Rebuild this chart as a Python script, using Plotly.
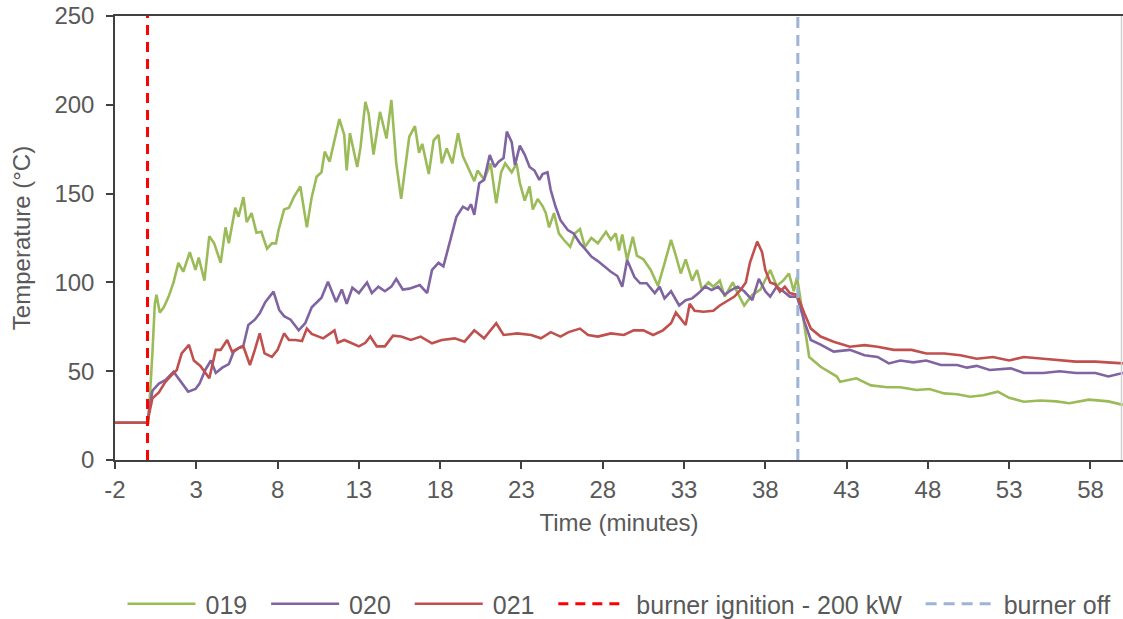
import plotly.graph_objects as go

# ---- data ----
t_019 = [-2, 0, 0.05, 0.3, 0.45, 0.55, 0.75, 1.0, 1.3, 1.6, 1.9, 2.2, 2.6, 2.95, 3.15, 3.5, 3.8, 4.1, 4.5, 4.8,
         5.0, 5.4, 5.6, 5.9, 6.1, 6.4, 6.7, 7.0, 7.35, 7.65, 7.9, 8.06, 8.4, 8.7, 9.0, 9.4, 9.8, 10.1, 10.4, 10.7,
         10.9, 11.2, 11.55, 11.8, 12.1, 12.25, 12.45, 12.9, 13.1, 13.4, 13.6, 13.9, 14.3, 14.7, 15.0, 15.3, 15.6,
         16.1, 16.45, 16.7, 16.9, 17.3, 17.6, 17.9, 18.1, 18.4, 18.75, 19.1, 19.4, 19.8, 20.1, 20.3, 20.7, 21.1,
         21.45, 21.75, 22.0, 22.4, 22.7, 22.9, 23.2, 23.5, 23.7, 24.0, 24.3, 24.5, 24.7, 25.0, 25.3, 25.6, 26.0,
         26.3, 26.6, 26.9, 27.3, 27.7, 28.2, 28.5, 28.8, 29.0, 29.2, 29.5, 29.85, 30.1, 30.5, 30.95, 31.4, 31.8,
         32.2, 32.5, 32.8, 33.1, 33.5, 33.8, 34.1, 34.5, 34.8, 35.2, 35.5, 36.0, 36.3, 36.7, 37.2, 37.7, 38.3,
         38.7, 39.1, 39.45, 39.75, 39.95, 40.4, 40.7, 41.4, 42.4, 42.6, 43.6, 44.5, 45.5, 46.3, 47.3, 48.1, 49.0,
         49.8, 50.6, 51.4, 52.3, 53.0, 53.9, 54.9, 55.9, 56.7, 57.9, 59.1, 60]
T_019 = [21, 21, 21, 60, 88, 93, 83, 86, 92, 100, 111, 106, 117, 107, 114, 101, 126, 122, 111, 131,
         122, 142, 137, 148, 134, 139, 128, 128.5, 119, 122, 122, 129.5, 141, 142, 148, 154, 131, 148, 159.5, 162,
         173.6, 168, 181, 192, 183, 163, 184, 165, 176, 201.7, 195, 172, 196, 181, 202.7, 167, 147,
         182, 188, 173, 178, 161, 180, 183, 167, 175.5, 167, 184, 171, 163, 157, 163, 158, 167,
         144.5, 162, 167, 162, 167, 156, 146, 154, 141, 147, 143, 139, 131, 139, 127.6, 124, 120,
         127.6, 130, 120, 125, 122, 128.5, 124, 127.6, 118, 127, 112.6, 125.7, 115, 113, 107, 98, 110.7,
         124, 115, 105, 113, 101, 107, 96, 100, 97.6, 101, 92, 100, 94, 87, 93, 96, 107,
         98, 101, 105, 95, 103, 75, 58, 52.5, 47, 44, 46, 42, 41, 41, 39.4, 40, 37.5,
         37, 35.6, 36.5, 38.5, 35, 32.8, 33.5, 33, 32, 34, 33, 31]

t_020 = [-2, 0, 0.1, 0.3, 0.7, 1.1, 1.6, 2.0, 2.5, 2.95, 3.2, 3.55, 3.9, 4.2, 4.6, 5.0, 5.3, 5.6, 5.9, 6.2,
         6.6, 6.9, 7.25, 7.75, 8.1, 8.4, 8.8, 9.3, 9.7, 10.1, 10.4, 10.7, 11.1, 11.3, 11.6, 11.95, 12.25, 12.6,
         13.0, 13.5, 13.8, 14.2, 14.6, 15.0, 15.3, 15.7, 16.1, 16.75, 17.2, 17.5, 17.9, 18.2, 18.5, 18.8, 19.0,
         19.4, 19.7, 19.9, 20.1, 20.4, 20.7, 21.05, 21.35, 21.6, 21.9, 22.1, 22.4, 22.6, 22.9, 23.2, 23.5, 23.8,
         24.1, 24.3, 24.6, 24.8, 25.1, 25.4, 25.85, 26.2, 26.6, 26.9, 27.3, 27.7, 28.1, 28.5, 28.9, 29.2, 29.5,
         29.95, 30.3, 30.7, 31.2, 31.5, 31.8, 32.2, 32.7, 33.1, 33.5, 33.9, 34.3, 34.7, 35.1, 35.5, 35.9, 36.3,
         36.7, 37.2, 37.6, 38.0, 38.3, 38.7, 39.1, 39.5, 39.95, 40.4, 40.8, 41.4, 42.2, 43.2, 44.1, 44.9, 45.6,
         46.3, 47.1, 47.9, 48.8, 49.8, 50.4, 51.0, 51.8, 53.1, 53.9, 55.1, 56.1, 57.1, 58.3, 59.1, 60]
T_020 = [21, 21, 28, 39, 43, 45, 49.7, 45, 38.5, 40, 43, 50.7, 56, 49, 52, 54, 61, 63, 64.5, 76,
         79, 82.6, 89, 94.8, 84.5, 81, 79, 73, 77, 86, 89, 91.4, 100.4, 96, 89, 96, 88, 97,
         94, 100, 94, 97.6, 95, 97.6, 102, 96, 96.5, 98.5, 94, 107, 111, 109, 120, 129.5, 137,
         142.6, 141, 144, 138, 155.8, 157.7, 171.7, 165, 168, 170, 184.9, 179, 166, 177, 172, 165, 163,
         157.7, 161, 162, 152, 142.6, 135, 129.5, 127.6, 122, 119, 114.5, 112, 108.8, 106, 103.6, 97.6, 112.6,
         103, 99.5, 99.5, 94, 97.6, 91, 95, 87, 90, 91, 94, 97.6, 95.7, 97.6, 93, 95.7, 97.6,
         95, 90, 102, 95, 92, 97.6, 95, 92, 92, 78, 67.6, 65, 61, 62, 59, 58, 54.4,
         56, 55, 56, 53.5, 53.5, 52, 53, 50.7, 51.6, 49, 49, 50, 49, 49, 47, 49]

t_021 = [-2, 0, 0.1, 0.3, 0.7, 1.1, 1.5, 1.8, 2.1, 2.55, 2.85, 3.25, 3.8, 4.2, 4.5, 4.9, 5.2, 5.6, 5.9, 6.3,
         6.6, 6.9, 7.2, 7.65, 8.0, 8.4, 8.7, 9.1, 9.5, 9.8, 10.1, 10.5, 10.8, 11.2, 11.5, 11.7, 12.1, 12.5,
         13.0, 13.4, 13.7, 14.1, 14.6, 15.1, 15.6, 16.2, 16.8, 17.5, 18.1, 18.9, 19.5, 20.1, 20.7, 21.45, 21.9,
         22.75, 23.6, 24.2, 24.8, 25.4, 25.9, 26.6, 27.1, 27.7, 28.5, 29.3, 29.9, 30.5, 31.1, 31.7, 32.2, 32.5,
         32.85, 33.1, 33.35, 33.65, 34.2, 34.8, 35.2, 35.7, 36.1, 36.5, 36.8, 37.05, 37.5, 37.8, 38.0, 38.3,
         38.6, 38.9, 39.2, 39.5, 39.95, 40.4, 40.8, 41.4, 42.2, 43.2, 44.1, 44.9, 45.9, 47.0, 47.9, 49.0, 50.0,
         51.0, 52.0, 53.0, 53.9, 55.1, 56.1, 57.1, 58.3, 60]
T_021 = [21, 21, 26, 34.7, 38, 44, 47.9, 50.7, 60, 64.8, 56, 53, 46, 62, 62, 67.6, 61, 63, 63.8, 53.5,
         62, 71.3, 60, 58, 62, 71.3, 67.6, 67.6, 67, 74, 71, 69.5, 68.5, 71, 73, 66, 67.6, 66,
         64, 66, 69.5, 64, 64, 70, 69.5, 67.6, 69.5, 65.7, 67.6, 68.5, 66.6, 73, 68.5, 77, 70.4,
         71.3, 70.4, 68.5, 72, 69.5, 72, 74, 70.4, 69.5, 71.3, 70.4, 73, 73, 70.4, 73, 77, 83,
         79, 76, 88, 84, 83.5, 84, 87, 90, 92, 96, 100, 111, 123, 117, 107, 100,
         99, 94.8, 97.6, 94, 93, 82.6, 74, 69.5, 66.6, 63.8, 64.7, 63.8, 62, 62, 60, 60, 59,
         57, 58, 56, 58, 57, 56, 55.4, 55.4, 54.4]

ignition_t = [0, 0]
burner_off_t = [40, 40]
marker_T = [0, 250]

series_names = ["019", "020", "021", "burner ignition - 200 kW", "burner off"]
x_ticks = [-2, 3, 8, 13, 18, 23, 28, 33, 38, 43, 48, 53, 58]
x_tick_labels = ["-2", "3", "8", "13", "18", "23", "28", "33", "38", "43", "48", "53", "58"]
y_ticks = [0, 50, 100, 150, 200, 250]

FONT = "Liberation Sans, Arial, sans-serif"
TXT = "#595959"
AX = "#404040"
FS = 24
LFS = 25
PRE = "\u2009"
PAD = "\u00a0\u00a0"

W, H = 1123, 619

fig = go.Figure()
fig.add_trace(go.Scatter(x=t_019, y=T_019, mode="lines", name=PRE + series_names[0] + PAD,
                         line=dict(color="#9BBB59", width=2.6)))
fig.add_trace(go.Scatter(x=t_020, y=T_020, mode="lines", name=PRE + series_names[1] + PAD,
                         line=dict(color="#8064A2", width=2.6)))
fig.add_trace(go.Scatter(x=t_021, y=T_021, mode="lines", name=PRE + series_names[2] + PAD,
                         line=dict(color="#C0504D", width=2.6)))
fig.add_trace(go.Scatter(x=ignition_t, y=marker_T, mode="lines", name=PRE + series_names[3] + PAD,
                         line=dict(color="#FF0000", width=3, dash="10px,7px")))
fig.add_trace(go.Scatter(x=burner_off_t, y=marker_T, mode="lines", name=PRE + series_names[4],
                         line=dict(color="#9DB4D6", width=3, dash="11px,7px")))

fig.update_layout(
    width=W, height=H,
    margin=dict(l=115, r=0, t=16, b=159, autoexpand=False),
    paper_bgcolor="white", plot_bgcolor="white",
    font=dict(family=FONT, size=FS, color=TXT),
    showlegend=True,
    legend=dict(orientation="h", x=0.5, xanchor="center", xref="paper",
                y=(H - 604) / H, yanchor="middle", yref="container",
                font=dict(family=FONT, size=LFS, color=TXT), itemwidth=68,
                traceorder="normal"),
    xaxis=dict(range=[-2, 60], tickmode="array", tickvals=x_ticks, ticktext=x_tick_labels,
               automargin=False,
               ticks="outside", ticklen=7, tickcolor=AX, tickwidth=1.5,
               showline=True, linecolor=AX, linewidth=1.5, mirror=True,
               showgrid=False, zeroline=False, ticklabelstandoff=0,
               ticklabeloverflow="allow",
               tickfont=dict(size=FS, color=TXT),
               title=dict(text="Time (minutes)", font=dict(size=FS, color=TXT), standoff=13)),
    yaxis=dict(range=[0, 250], tickmode="array", tickvals=y_ticks, automargin=False,
               ticks="outside", ticklen=7, tickcolor=AX, tickwidth=1.5,
               showline=True, linecolor=AX, linewidth=1.5,
               showgrid=False, zeroline=False, ticklabelstandoff=7,
               ticklabeloverflow="allow",
               tickfont=dict(size=FS, color=TXT),
               title=dict(text="Temperature (°C)", font=dict(size=FS, color=TXT), standoff=17)),
    shapes=[dict(type="line", xref="paper", yref="paper", x0=0.9985, x1=0.9985, y0=0, y1=1,
                 line=dict(color="#D0D0D0", width=1.5))],
)

# remove the browser's default 8 px page margin so the 1123x619 figure fills the window
fig.write_html("out.html",
               config={"displayModeBar": False},
               post_script="document.body.style.margin='0px';"
                           "document.documentElement.style.overflow='hidden';")
